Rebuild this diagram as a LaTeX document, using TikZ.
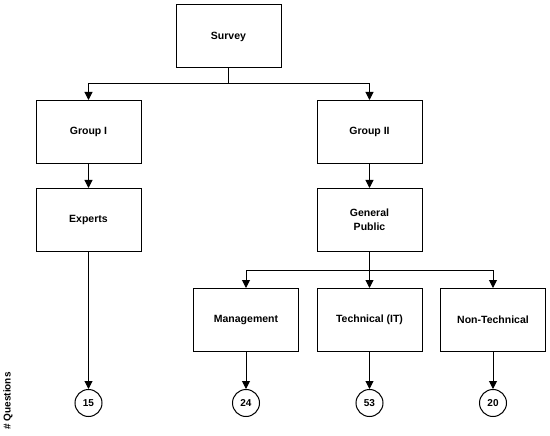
\documentclass[tikz,border=0pt]{standalone}
\usepackage{fontspec}
\setmainfont{Liberation Sans}
\usetikzlibrary{arrows.meta, positioning}

\begin{document}
\begin{tikzpicture}[x=1pt, y=-1pt,
    % Define styles
    box/.style={rectangle, draw, line width=1pt, minimum width=105pt, minimum height=63pt, align=center, font=\bfseries\fontsize{10.5}{14}\selectfont},
    count/.style={circle, draw, line width=1pt, minimum size=27pt, inner sep=0pt, font=\bfseries\fontsize{10}{12}\selectfont},
    arrow/.style={-{Triangle[length=8pt, width=8pt]}, line width=1pt},
    link/.style={line width=1pt}
  ]
  \useasboundingbox (0,0) rectangle (550,436);

  % Survey
  \node[box] (survey) at (228.5,36.5) {Survey};

  % Groups
  \node[box] (group1) at (88.5,132) {Group I};
  \node[box] (group2) at (369.5,132) {Group II};
  \coordinate (split) at (228.5,84);
  \draw[link] (survey) -- (split);
  \draw[arrow] (split) -| (group1);
  \draw[arrow] (split) -| (group2);

  % Respondents
  \node[box, below=24pt of group1] (experts) {Experts};
  \node[box, below=24pt of group2] (public) {General\\Public};
  \draw[arrow] (group1) -- (experts);
  \draw[arrow] (group2) -- (public);

  % Public categories
  \node[box, below=36pt of public] (tech) {Technical (IT)};
  \node[box, left=17.5pt of tech] (mgmt) {Management};
  \node[box, right=17.5pt of tech] (nontech) {Non-Technical};
  \coordinate[below=18pt of public] (fork);
  \draw[link] (public) -- (fork);
  \draw[arrow] (fork) -| (mgmt);
  \draw[arrow] (fork) -- (tech);
  \draw[arrow] (fork) -| (nontech);

  % Question counts
  \node[count] (q15) at (88.5,403) {15};
  \node[count] (q24) at (mgmt |- q15) {24};
  \node[count] (q53) at (tech |- q15) {53};
  \node[count] (q20) at (nontech |- q15) {20};
  \draw[arrow] (experts) -- (q15);
  \draw[arrow] (mgmt) -- (q24);
  \draw[arrow] (tech) -- (q53);
  \draw[arrow] (nontech) -- (q20);

  % Annotation
  \node[rotate=90, font=\bfseries\fontsize{10}{12}\selectfont] (qlabel) at (8,401) {\# Questions};

\end{tikzpicture}
\end{document}
